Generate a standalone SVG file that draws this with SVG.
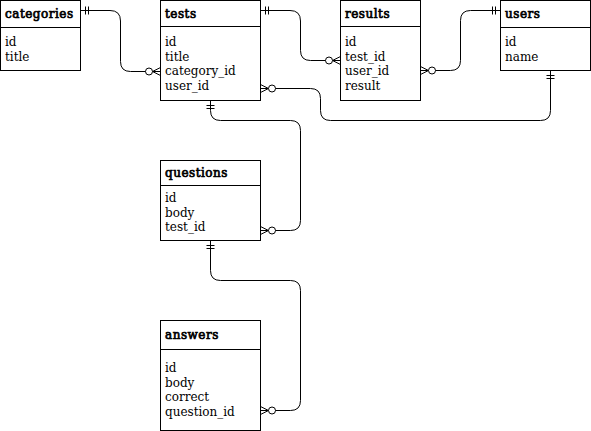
<svg xmlns="http://www.w3.org/2000/svg" width="591" height="431" viewBox="0 0 591 431">
<style>
  .box { fill: #ffffff; stroke: #000000; stroke-width: 1; }
  .sep { stroke: #000000; stroke-width: 1; fill: none; }
  .hdr { font-family: "DejaVu Serif", "Liberation Serif", serif; font-size: 12px; font-weight: normal; fill: #000000; stroke: #000000; stroke-width: 0.7px; letter-spacing: 0.5px; }
  .fld { font-family: "DejaVu Serif", "Liberation Serif", serif; font-size: 12px; fill: #000000; }
  .edge { fill: none; stroke: #000000; stroke-width: 1; }
</style>
<defs>
  <marker id="one" markerUnits="userSpaceOnUse" markerWidth="20" markerHeight="14" viewBox="-16 -7 20 14" refX="0" refY="0" orient="auto-start-reverse" overflow="visible">
    <path d="M-5,-4 V4 M-8,-4 V4" fill="none" stroke="#000" stroke-width="1"/>
  </marker>
  <marker id="many" markerUnits="userSpaceOnUse" markerWidth="20" markerHeight="14" viewBox="-18 -7 20 14" refX="0" refY="0" orient="auto-start-reverse" overflow="visible">
    <path d="M0,-4 L-8,0 L0,4 M-8,0 H0" fill="none" stroke="#000" stroke-width="1"/>
    <circle cx="-11.5" cy="0" r="3.5" fill="#fff" stroke="#000" stroke-width="1"/>
  </marker>
</defs>

<g id="connectors">
  <path class="edge" d="M80.5,10.5 H110 Q120.5,10.5 120.5,21 V61.5 Q120.5,71.5 130.5,71.5 H160.5" marker-start="url(#one)" marker-end="url(#many)"/>
  <path class="edge" d="M260.5,10.5 H290 Q300.5,10.5 300.5,21 V50.5 Q300.5,60.5 310.5,60.5 H340.5" marker-start="url(#one)" marker-end="url(#many)"/>
  <path class="edge" d="M420.5,70.5 H450.5 Q460.5,70.5 460.5,60.5 V20.5 Q460.5,10.5 470.5,10.5 H500.5" marker-start="url(#many)" marker-end="url(#one)"/>
  <path class="edge" d="M260.5,88.5 H310.5 Q320.5,88.5 320.5,98.5 V110.5 Q320.5,120.5 330.5,120.5 H540.5 Q550.5,120.5 550.5,110.5 V70.5" marker-start="url(#many)" marker-end="url(#one)"/>
  <path class="edge" d="M210.5,100.5 V110.5 Q210.5,120.5 220.5,120.5 H290.5 Q300.5,120.5 300.5,130.5 V220.5 Q300.5,230.5 290.5,230.5 H260.5" marker-start="url(#one)" marker-end="url(#many)"/>
  <path class="edge" d="M210.5,240.5 V270.5 Q210.5,280.5 220.5,280.5 H290.5 Q300.5,280.5 300.5,290.5 V400.5 Q300.5,410.5 290.5,410.5 H260.5" marker-start="url(#one)" marker-end="url(#many)"/>
</g>

<g id="categories">
  <rect class="box" x="0.5" y="0.5" width="80" height="70"/>
  <line class="sep" x1="0.5" y1="27.5" x2="80.5" y2="27.5"/>
  <text class="hdr" x="5" y="18">categories</text>
  <text class="fld" x="5" y="46">id</text>
  <text class="fld" x="5" y="60.5">title</text>
</g>

<g id="tests">
  <rect class="box" x="160.5" y="0.5" width="100" height="100"/>
  <line class="sep" x1="160.5" y1="26.5" x2="260.5" y2="26.5"/>
  <text class="hdr" x="165" y="18">tests</text>
  <text class="fld" x="165" y="46">id</text>
  <text class="fld" x="165" y="60.5">title</text>
  <text class="fld" x="165" y="75">category_id</text>
  <text class="fld" x="165" y="89.5">user_id</text>
</g>

<g id="results">
  <rect class="box" x="340.5" y="0.5" width="80" height="100"/>
  <line class="sep" x1="340.5" y1="26.5" x2="420.5" y2="26.5"/>
  <text class="hdr" x="345" y="18">results</text>
  <text class="fld" x="345" y="46">id</text>
  <text class="fld" x="345" y="60.5">test_id</text>
  <text class="fld" x="345" y="75">user_id</text>
  <text class="fld" x="345" y="89.5">result</text>
</g>

<g id="users">
  <rect class="box" x="500.5" y="0.5" width="90" height="70"/>
  <line class="sep" x1="500.5" y1="27.5" x2="590.5" y2="27.5"/>
  <text class="hdr" x="505" y="18">users</text>
  <text class="fld" x="505" y="46">id</text>
  <text class="fld" x="505" y="60.5">name</text>
</g>

<g id="questions">
  <rect class="box" x="160.5" y="160.5" width="100" height="80"/>
  <line class="sep" x1="160.5" y1="185.5" x2="260.5" y2="185.5"/>
  <text class="hdr" x="165" y="177">questions</text>
  <text class="fld" x="165" y="202">id</text>
  <text class="fld" x="165" y="216.5">body</text>
  <text class="fld" x="165" y="231">test_id</text>
</g>

<g id="answers">
  <rect class="box" x="160.5" y="320.5" width="100" height="110"/>
  <line class="sep" x1="160.5" y1="349.5" x2="260.5" y2="349.5"/>
  <text class="hdr" x="165" y="339">answers</text>
  <text class="fld" x="165" y="372">id</text>
  <text class="fld" x="165" y="386.5">body</text>
  <text class="fld" x="165" y="401">correct</text>
  <text class="fld" x="165" y="415.5">question_id</text>
</g>
</svg>
